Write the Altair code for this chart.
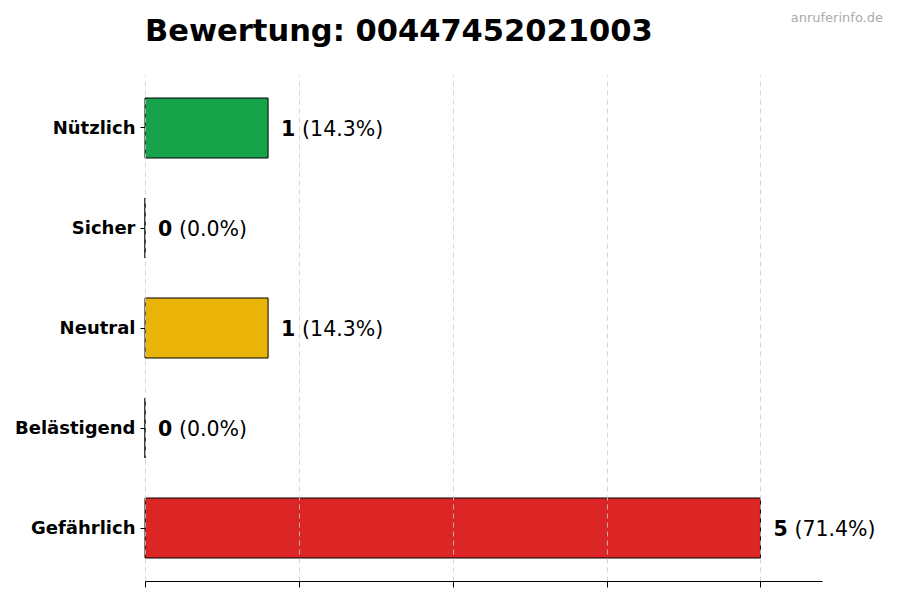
import altair as alt
import pandas as pd

categories = ["Nützlich", "Sicher", "Neutral", "Belästigend", "Gefährlich"]
counts = [1, 0, 1, 0, 5]
colors = ["#16a34a", "#9ca3af", "#eab308", "#f97316", "#dc2626"]
x_ticks = [0, 1.25, 2.5, 3.75, 5]
title_text = "Bewertung: 00447452021003"
watermark = "anruferinfo.de"

total = sum(counts)
df = pd.DataFrame({
    "cat": categories,
    "count": counts,
    "num": [str(c) for c in counts],
    "pct": [f"({c / total * 100:.1f}%)" for c in counts],
})

FONT = "DejaVu Sans"

y_enc = alt.Y("cat:N", sort=categories,
              scale=alt.Scale(paddingInner=0.4, paddingOuter=0.23),
              axis=alt.Axis(title=None, domain=False, ticks=True, tickSize=5,
                            tickColor="black", labelPadding=5, labelOffset=1,
                            labelFont=FONT, labelFontSize=18,
                            labelFontWeight="bold", labelColor="black"))
x_enc = alt.X("count:Q", scale=alt.Scale(domain=[0, 5.5], nice=False),
              axis=alt.Axis(title=None, values=x_ticks, labels=False,
                            grid=True, gridDash=[5, 4], gridColor="#cccccc",
                            gridWidth=0.8, tickSize=6, tickColor="black",
                            domainColor="black", domainWidth=1, zindex=1))

base = alt.Chart(df)

bars = base.mark_bar(stroke="black", strokeWidth=1, opacity=1).encode(
    x=x_enc, y=y_enc,
    color=alt.Color("cat:N", scale=alt.Scale(domain=categories, range=colors), legend=None),
)

num_text = base.mark_text(align="left", baseline="middle", dx=13, dy=1.5,
                          font=FONT, fontSize=20.5, fontWeight="bold",
                          color="black").encode(
    x="count:Q", y=alt.Y("cat:N", sort=categories), text="num:N")

pct_text = base.mark_text(align="left", baseline="middle", dx=34, dy=1.5,
                          font=FONT, fontSize=20.5, color="black").encode(
    x="count:Q", y=alt.Y("cat:N", sort=categories), text="pct:N")

wm = alt.Chart(pd.DataFrame({"t": [watermark]})).mark_text(
    align="right", baseline="middle", font=FONT, fontSize=13, color="#aaaaaa"
).encode(x=alt.value(738), y=alt.value(-57), text="t:N")

ttl = alt.Chart(pd.DataFrame({"t": [title_text]})).mark_text(
    align="left", baseline="alphabetic", font=FONT, fontSize=30.5,
    fontWeight="bold", color="black"
).encode(x=alt.value(0), y=alt.value(-34), text="t:N")

chart = alt.layer(bars, num_text, pct_text, wm, ttl).properties(
    width=677, height=506,
    padding={"left": 137, "top": 67, "right": 70, "bottom": 10},
    autosize=alt.AutoSizeParams(type="none"),
).configure_view(stroke=None).configure_axisY(grid=False)

chart.save("out.html", embed_options={"renderer": "svg", "actions": False})
